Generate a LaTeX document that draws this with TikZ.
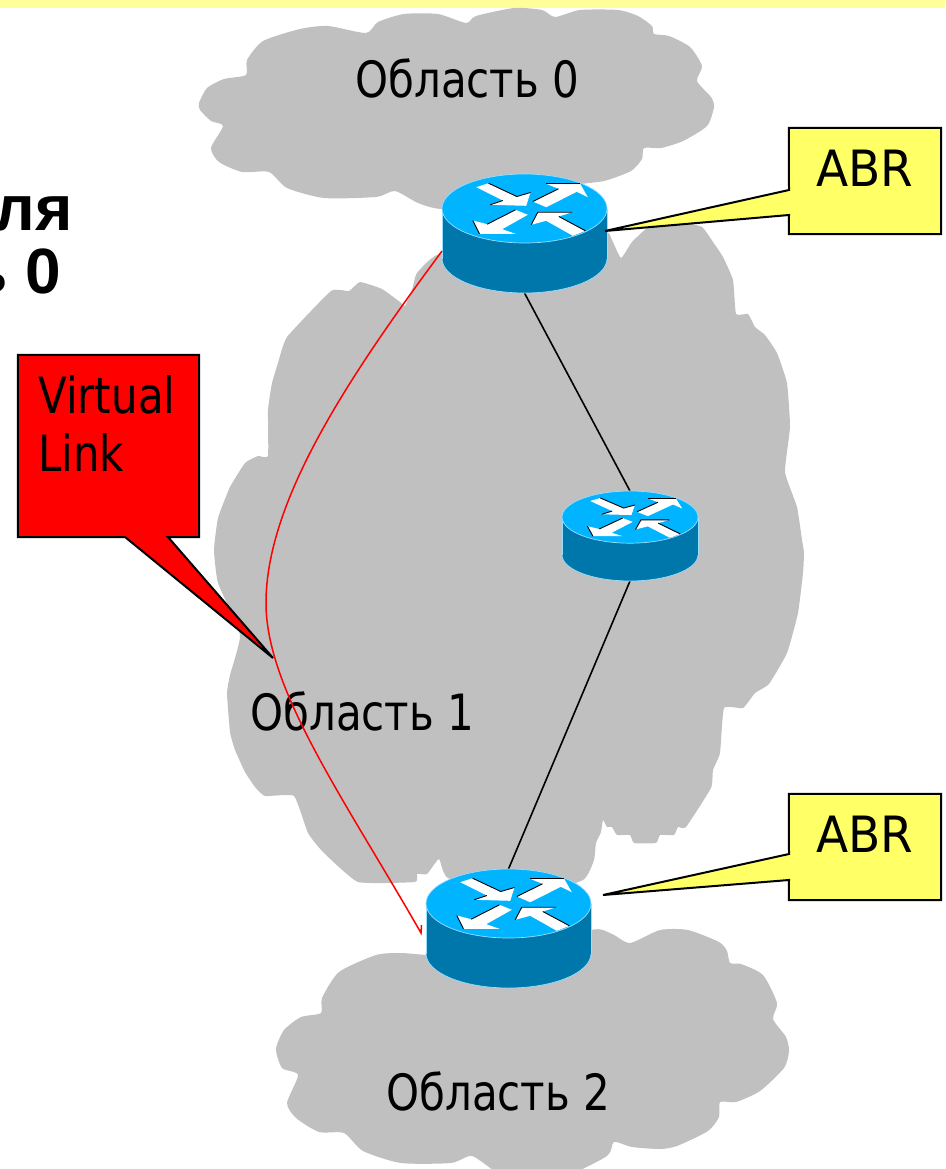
\documentclass[tikz,border=0pt]{standalone}
\usepackage{fontspec}
\setmainfont{DejaVu Sans}
\newfontfamily\labelfont{DejaVu Sans}[FakeStretch=0.84]
\newfontfamily\abrfont{DejaVu Sans}[FakeStretch=0.94]
\newfontfamily\cutfont{Liberation Sans}
\definecolor{cloudgrey}{HTML}{C0C0C0}
\definecolor{routertop}{HTML}{00B4FF}
\definecolor{routerside}{HTML}{0077AA}
\definecolor{routeredge}{HTML}{99DDFF}
\definecolor{calloutyellow}{HTML}{FFFF66}
\definecolor{bandyellow}{HTML}{FFFF99}
\tikzset{
  area/.style={fill=cloudgrey, draw=none},
  routerbox/.style={minimum width=165pt, minimum height=119pt, inner sep=0, outer sep=0},
  smallbox/.style={minimum width=136pt, minimum height=90pt, inner sep=0, outer sep=0},
  wing/.style={fill=white, draw=none},
  wingedge/.style={draw=black, line width=0.9pt},
  link/.style={draw=black, line width=1.6pt},
  vlink/.style={draw=red, line width=1.5pt},
  calloutline/.style={draw=black, line width=2pt, line join=miter},
  label/.style={inner sep=0, anchor=base west, font=\fontsize{50}{58}\labelfont},
  abrlabel/.style={inner sep=0, anchor=base west, font=\fontsize{50}{58}\abrfont},
  cutlabel/.style={inner sep=0, anchor=base east, font=\fontsize{64}{70}\cutfont\bfseries},
  routerpic/.pic={
    \fill [routerside, draw=routeredge, line width=0.7pt] (0,25) ellipse [x radius=82.5pt, y radius=34.5pt];
    \fill [routerside] (-82.5,-25) rectangle (82.5,25);
    \draw [routeredge, line width=0.7pt] (-82.5,-25) -- (-82.5,25);
    \draw [routeredge, line width=0.7pt] (82.5,-25) -- (82.5,25);
    \fill [routertop, draw=routeredge, line width=0.7pt] (0,-25) ellipse [x radius=82.5pt, y radius=34.5pt];
    \begin{scope}[yshift=25pt]
    \fill [wing] (-48.3,-21.3) -- (-36,-25.3) -- (-7.7,-12) -- (6,-16) -- (1.7,-2.7) -- (-34.3,-3.7) -- (-21.7,-8) -- cycle;
    \draw [wingedge] (-36,-25.3) -- (-7.7,-12) -- (6,-16);
    \draw [wingedge] (-34.3,-3.7) -- (-21.7,-8);
    \fill [wing] (8.3,-7) -- (34,-19.7) -- (21.7,-24.7) -- (55.7,-24.7) -- (63.3,-11.3) -- (52.3,-16.7) -- (21.7,-1.3) -- cycle;
    \draw [wingedge] (8.3,-7) -- (34,-19.7);
    \draw [wingedge] (21.7,-24.7) -- (55.7,-24.7);
    \fill [wing] (3.3,6.3) -- (-9,1.3) -- (-37.3,15.7) -- (-51.7,12) -- (-45,25.3) -- (-9,25.3) -- (-22.3,20.7) -- cycle;
    \draw [wingedge] (-9,1.3) -- (-37.3,15.7);
    \draw [wingedge] (-51.7,12) -- (-45,25.3);
    \fill [wing] (6.7,16.3) -- (13.3,3.7) -- (47.7,3.7) -- (34.3,8) -- (61,22.3) -- (48.3,27.3) -- (21.7,12.3) -- cycle;
    \draw [wingedge] (6.7,16.3) -- (13.3,3.7) -- (47.7,3.7);
    \draw [wingedge] (34.3,8) -- (61,22.3);
    \end{scope}
  }
}
\begin{document}
\begin{tikzpicture}[x=1pt, y=-1pt]
\useasboundingbox (0,0) rectangle (945,1169);
\clip (0,0) rectangle (945,1169);
\fill [bandyellow] (0,0) rectangle (945,8);
\fill [area] plot [smooth cycle, tension=0.4] coordinates {
  (199,103) (207,88) (224,79) (246,75) (247,60) (263,41) (300,29) (328,26) (366,33) (378,22)
  (404,14) (438,14) (466,23) (476,16) (514,8) (542,10) (555,17) (580,10) (618,10) (638,16)
  (652,26) (654,34) (669,36) (690,47) (702,66) (697,81) (711,97) (714,107) (707,126) (683,141)
  (661,148) (644,148) (642,159) (631,171) (604,181) (569,186) (500,205) (442,209) (418,203) (395,191)
  (376,197) (324,198) (287,188) (269,172) (242,172) (219,162) (211,148) (223,126) (211,121) (200,110)
};
\fill [area] plot [smooth cycle, tension=0.25] coordinates {
  (442,253) (417,273) (412,290) (405,306) (400,302) (382,289) (360,282) (349,291) (331,291) (287,337)
  (278,363) (272,383) (268,410) (268,456) (258,456) (245,463) (230,487) (218,518) (214,550) (218,583)
  (240,635) (230,675) (227,693) (230,732) (235,750) (245,772) (255,787) (265,796) (294,796) (308,833)
  (323,852) (358,882) (415,882) (417,874) (427,874) (439,859) (448,878) (520,900) (583,880) (594,860)
  (596,843) (601,832) (603,820) (607,827) (612,827) (617,835) (630,835) (634,843) (656,843) (660,835)
  (674,835) (678,827) (686,827) (711,788) (713,770) (720,753) (724,708) (743,708) (755,693) (769,684)
  (787,653) (798,613) (803,573) (804,553) (802,540) (797,507) (785,472) (790,427) (787,383) (777,353)
  (765,335) (755,327) (748,314) (736,314) (733,280) (723,257) (713,242) (702,227) (680,222) (650,226)
  (632,242) (621,258) (612,240) (606,232) (560,250)
};
\fill [area] plot [smooth cycle, tension=0.4] coordinates {
  (276,1049) (284,1030) (301,1017) (321,1013) (322,998) (339,972) (376,955) (401,953) (427,955) (510,960)
  (591,930) (612,934) (630,943) (660,930) (688,930) (719,942) (727,951) (730,963) (741,964) (763,975)
  (777,1003) (773,1019) (786,1037) (789,1051) (784,1068) (760,1091) (736,1102) (720,1102) (719,1117) (708,1131)
  (677,1146) (660,1149) (632,1147) (614,1142) (607,1156) (563,1177) (522,1177) (498,1173) (472,1156) (451,1163)
  (401,1163) (363,1151) (344,1133) (319,1132) (296,1118) (287,1103) (298,1075) (282,1068)
};
\node [routerbox] (rtop) at (524.5,233.5) {};
\node [smallbox] (rmid) at (630,536) {};
\node [routerbox] (rbot) at (508.5,928.5) {};
\coordinate (vlmid) at (266,603);
\coordinate (vlend) at (421,933);
\draw [link] (rtop.south) -- (rmid.north);
\draw [link] (rmid.south) -- (rbot.north);
\pic at (rtop) {routerpic};
\pic [xscale=0.824, yscale=0.756] at (rmid) {routerpic};
\pic at (rbot) {routerpic};
\node [label] (area0) at (355,98) {Область 0};
\node [label] (area1) at (250,730) {Область 1};
\node [label] (area2) at (386,1110) {Область 2};
\draw [vlink] (rtop.192) .. controls (350,375) and (266,500) .. (vlmid)
  .. controls (266,690) and (345,800) .. (vlend) -- ++(0.5,-8);
\node [cutlabel] (head1) at (73,230) {ля};
\node [cutlabel] (head2) at (61,293) {ь 0};
\node [minimum width=152pt, minimum height=106pt, inner sep=0] (abrtop) at (865,181) {};
\coordinate (abrtoptip) at (605,231);
\fill [calloutyellow, calloutline] (abrtop.north west) -- (abrtop.north east) -- (abrtop.south east) -- (abrtop.south west)
  -- (789,215) -- (abrtoptip) -- (789,190) -- cycle;
\node [abrlabel] (abrtoplabel) at (816,186) {ABR};
\node [minimum width=152pt, minimum height=106pt, inner sep=0] (abrbot) at (865,847) {};
\coordinate (abrbottip) at (603,895);
\fill [calloutyellow, calloutline] (abrbot.north west) -- (abrbot.north east) -- (abrbot.south east) -- (abrbot.south west)
  -- (789,880) -- (abrbottip) -- (789,854) -- cycle;
\node [abrlabel] (abrbotlabel) at (816,852) {ABR};
\node [minimum width=181pt, minimum height=182pt, inner sep=0] (vbox) at (108.5,446) {};
\coordinate (vtip) at (273,658);
\fill [red, calloutline] (vbox.north west) -- (vbox.north east) -- (vbox.south east) -- (168,537) -- (vtip) -- (125,537) -- (vbox.south west) -- cycle;
\node [label] (vlabel1) at (38,413) {Virtual};
\node [label] (vlabel2) at (38,471) {Link};
\end{tikzpicture}
\end{document}
